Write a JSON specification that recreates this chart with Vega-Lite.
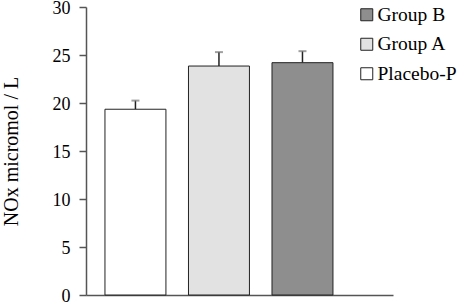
{
  "$schema": "https://vega.github.io/schema/vega-lite/v6.json",
  "width": 307,
  "height": 288,
  "autosize": {"type": "none"},
  "padding": {"left": 86, "top": 7, "right": 69, "bottom": 9},
  "background": "white",
  "config": {
    "view": {"stroke": null},
    "font": "Liberation Serif"
  },
  "data": {
    "values": [
      {"group": "Placebo-P", "value": 19.35, "upper": 20.25},
      {"group": "Group A", "value": 23.85, "upper": 25.3},
      {"group": "Group B", "value": 24.2, "upper": 25.4}
    ]
  },
  "encoding": {
    "x": {
      "field": "group",
      "type": "nominal",
      "sort": ["Placebo-P", "Group A", "Group B"],
      "scale": {"paddingInner": 0.27, "paddingOuter": 0.473, "align": 0.24},
      "axis": {
        "title": null,
        "labels": false,
        "ticks": false,
        "domainColor": "#555555",
        "domainWidth": 1.5
      }
    }
  },
  "layer": [
    {
      "mark": {"type": "rule", "color": "#222222", "strokeWidth": 1.5},
      "encoding": {
        "y": {"field": "value", "type": "quantitative"},
        "y2": {"field": "upper"}
      }
    },
    {
      "mark": {"type": "tick", "color": "#777777", "thickness": 2, "size": 8},
      "encoding": {
        "y": {"field": "upper", "type": "quantitative"}
      }
    },
    {
      "mark": {"type": "bar", "stroke": "#222222", "strokeWidth": 1},
      "encoding": {
        "y": {
          "field": "value",
          "type": "quantitative",
          "scale": {"domain": [0, 30], "nice": false},
          "axis": {
            "title": "NOx micromol / L",
            "titleFont": "Liberation Serif",
            "titleFontSize": 20,
            "titleFontWeight": "normal",
            "titleColor": "black",
            "titlePadding": 31,
            "values": [0, 5, 10, 15, 20, 25, 30],
            "grid": false,
            "tickSize": 7,
            "tickColor": "#555555",
            "tickWidth": 1.5,
            "domainColor": "#555555",
            "domainWidth": 1.5,
            "labelFont": "Liberation Serif",
            "labelFontSize": 18,
            "labelColor": "black",
            "labelPadding": 9,
            "labelOffset": 1
          }
        },
        "fill": {
          "field": "group",
          "type": "nominal",
          "scale": {
            "domain": ["Group B", "Group A", "Placebo-P"],
            "range": ["#8e8e8e", "#e2e2e2", "#ffffff"]
          },
          "legend": {
            "title": null,
            "orient": "none",
            "legendX": 271,
            "legendY": -2,
            "padding": 0,
            "symbolType": "square",
            "symbolSize": 144,
            "symbolStrokeColor": "#222222",
            "symbolStrokeWidth": 1,
            "labelFont": "Liberation Serif",
            "labelFontSize": 19.5,
            "labelColor": "black",
            "labelOffset": 1,
            "rowPadding": 8.5
          }
        }
      }
    }
  ]
}
